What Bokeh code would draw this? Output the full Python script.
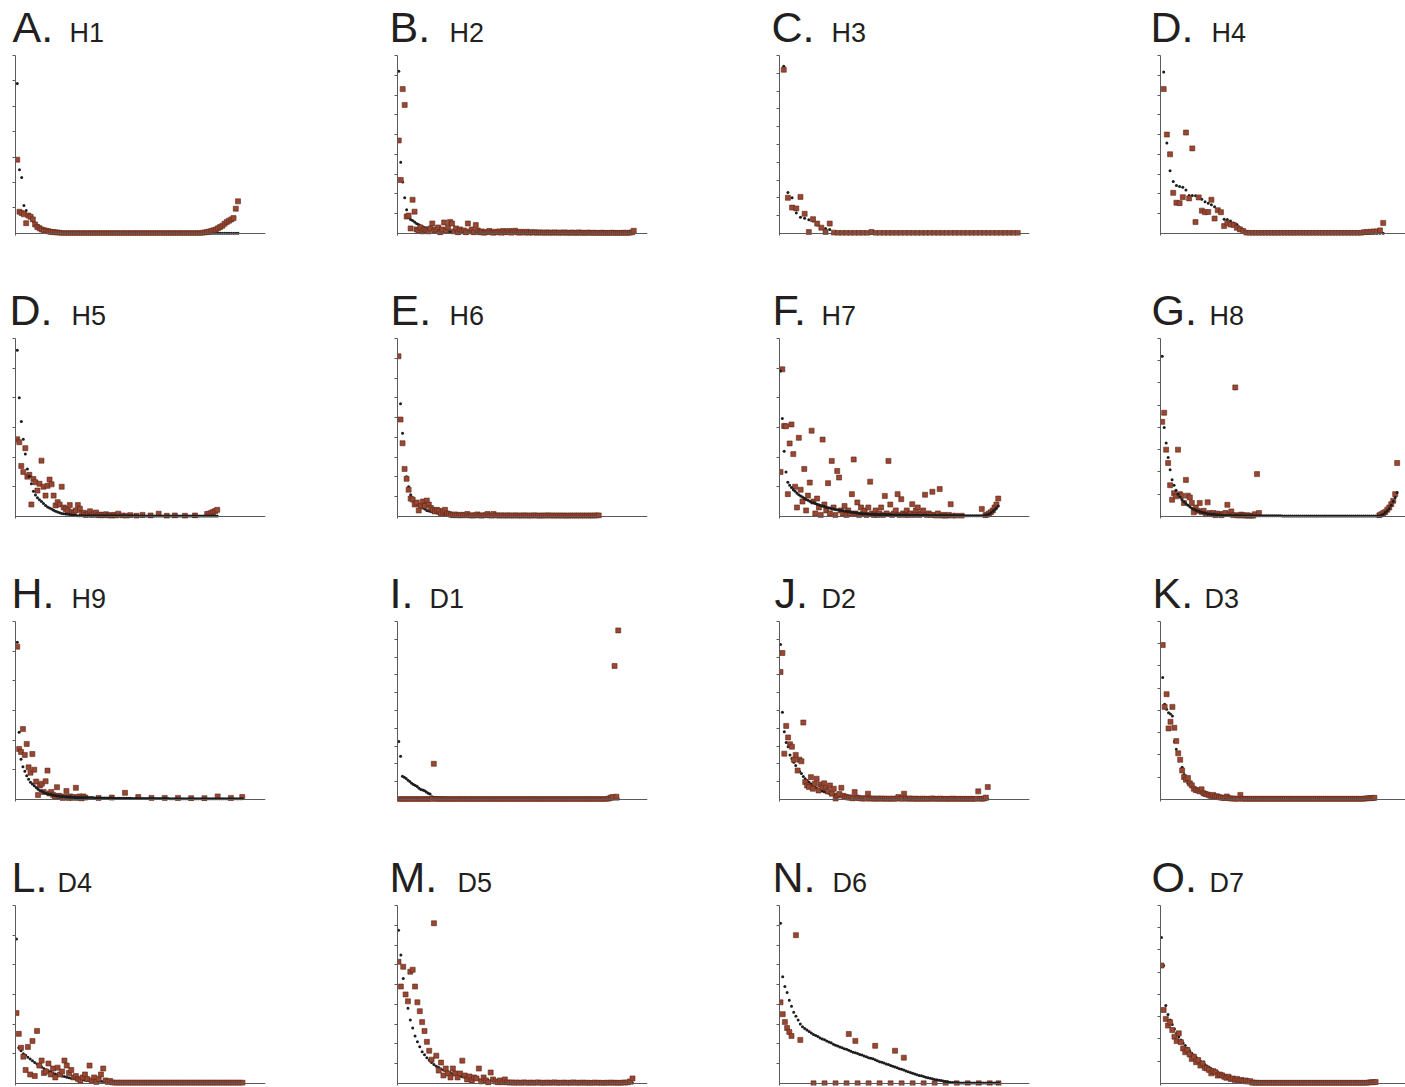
from bokeh.plotting import figure
from bokeh.layouts import column, row
from bokeh.models import Range1d, FixedTicker
from bokeh.core.properties import value
from bokeh.embed import file_html
from bokeh.resources import INLINE

N = float("nan")

# ---------------- data (black = smooth series, red = observed series) ----------------
H1_black = [5.9, 2.5, 2.2, 1.1, 0.9, 0.75, 0.6, 0.5, 0.4, 0.32, 0.25, 0.2, 0.16, 0.12, 0.1, 0.08, 0.06, 0.05, 0.04, 0.03] + [0.02] * 10 + [0.0] * 70
H1_red = [2.9, 0.85, 0.8, 0.75, 0.4, 0.7, 0.65, 0.55, 0.35, 0.25, 0.2, 0.15, 0.12, 0.1, 0.08, 0.06, 0.05, 0.04, 0.03, 0.02] + [0.0] * 63 + \
    [0.02, 0.03, 0.05, 0.07, 0.09, 0.12, 0.15, 0.2, 0.25, 0.3, 0.38, 0.45, 0.5, 0.55, 0.6, 0.97, 1.26]

H2_black = [8.2, 3.6, 2.6, 1.8, 1.2, 0.8, 0.7, 0.65, 0.58, 0.5, 0.45, 0.38, 0.34, 0.3, 0.27, 0.25, 0.22, 0.2, 0.18, 0.16,
            0.15, 0.14, 0.13, 0.12, 0.11, 0.1, 0.09, 0.08, 0.08, 0.07] + [0.06] * 10 + [0.04] * 20 + [0.02] * 30 + [0.01] * 30
H2_red = [4.7, 2.7, 7.3, 6.5, 0.85, 0.9, 0.25, 1.7, 1.1, 0.2, 0.15, 0.3, 0.1, 0.2, 0.15, 0.1, 0.25, 0.5, 0.15, 0.2,
          0.3, 0.05, 0.2, 0.55, 0.15, 0.3, 0.58, 0.5, 0.1, 0.25, 0.05, 0.2, 0.1, 0.15, 0.05, 0.5, 0.1, 0.2, 0.05, 0.42,
          0.15, 0.05, 0.1, 0.02, 0.05, 0.08, 0.12, 0.05, 0.02, 0.08, 0.05, 0.1, 0.02, 0.12, 0.05, 0.08, 0.12, 0.02, 0.1, 0.13,
          0.05, 0.02, 0.08, 0.05, 0.03, 0.08, 0.02, 0.06, 0.03, 0.06,
          0.02, 0.04, 0.05, 0.02, 0.03, 0.05, 0.02, 0.04, 0.02, 0.05, 0.03, 0.02, 0.04, 0.02, 0.05, 0.02, 0.03, 0.02, 0.04, 0.02,
          0.02, 0.05, 0.02, 0.03, 0.02, 0.02, 0.04, 0.02, 0.02, 0.03, 0.02, 0.02, 0.02, 0.03, 0.02, 0.02, 0.02, 0.02, 0.03, 0.02,
          0.02, 0.02, 0.02, 0.02, 0.03, 0.02, 0.02, 0.03, 0.05, 0.13]

H3_black = [9.4, 2.3, 2.0, 1.15, 0.9, 0.85, 0.76, 0.7, 0.47, 0.35, 0.28, 0.22, 0.02] + [0.0] * 44
H3_red = [9.2, 2.0, 1.45, 1.4, 2.05, 1.1, 0.07, 0.8, 0.55, 0.32, 0.08, 0.55, 0.04] + [0.02] * 8 + [0.08] + [0.02] * 35

H4_black = [8.17, 4.57, 3.17, 2.62, 2.42, 2.37, 2.33, 2.2, 1.92, 1.92, 1.9, 1.85, 1.72, 1.6, 1.52, 1.45, 1.35, 1.17, 1.12, 0.72,
            0.7, 0.62, 0.53, 0.45, 0.28, 0.17, 0.07] + [0.02] * 10 + [0.0] * 33
H4_red = [7.3, 5.0, 4.0, 2.05, 1.55, 1.53, 1.83, 5.1, 1.77, 4.3, 0.57, 1.82, 1.15, 1.07, 1.08, 1.7, 0.75, 1.17, 1.07, 0.37,
          0.53, 0.45, 0.42, 0.28, 0.2, 0.12, 0.03] + [0.02] * 36 + [0.06, 0.07, 0.08, 0.09, 0.1, 0.15, 0.53]

H5_black = [5.6, 4.0, 3.2, 2.6, 2.1, 1.6, 1.35, 1.1, 0.85, 0.72, 0.63, 0.56, 0.5, 0.43, 0.37, 0.32, 0.28, 0.25, 0.21, 0.17,
            0.15, 0.12, 0.1, 0.09, 0.08, 0.07, 0.06, 0.05, 0.04, 0.03] + [0.02] * 30 + [0.01] * 40
H5_red = [2.6, 2.5, 1.7, 1.5, 2.3, 1.34, 1.4, 0.4, 1.26, 1.15, 0.87, 1.1, 1.88, 1.0, 0.7, 1.03, 1.24, 1.08, 0.7, 0.37,
          0.48, 0.4, 1.0, 0.3, 0.25, 0.2, 0.38, 0.15, 0.11, 0.2, 0.38, 0.26, 0.1, 0.12, 0.05, 0.08, 0.17, 0.05, 0.08, 0.13,
          0.04, 0.06, 0.03, 0.05, 0.07, 0.03,
          0.04, 0.02, 0.05, 0.03, 0.09, N, 0.03, N, 0.02, N, 0.04, N, N, 0.02, N, N, 0.05, N, N, N,
          0.03, N, N, N, 0.09, N, N, N, 0.02, N, N, N, 0.03, N, N, N, N, 0.02, N, N, N, N, 0.03, N, N, N, N, N,
          0.08, 0.09, 0.12, 0.15, 0.18, 0.22]

H6_black = [8.1, 5.7, 4.2, 2.4, 2.0, 1.5, 1.1, 0.9, 0.75, 0.62, 0.55, 0.48, 0.42, 0.37, 0.3, 0.27, 0.24, 0.21, 0.19, 0.17,
            0.15, 0.13, 0.12, 0.11, 0.1, 0.09, 0.08, 0.07, 0.06, 0.05] + [0.04] * 10 + [0.03] * 10 + [0.02] * 50
H6_red = [8.1, 4.9, 3.7, 2.4, 1.9, 1.35, 0.9, 0.85, 0.6, 0.7, 0.3, 0.55, 0.75, 0.53, 0.8, 0.6, 0.42, 0.33, 0.25, 0.33,
          0.28, 0.15, 0.25, 0.33, 0.15, 0.12, 0.08, 0.05, 0.1, 0.06, 0.04, 0.08, 0.05, 0.06, 0.12, 0.04, 0.05, 0.03, 0.06, 0.1,
          0.04, 0.03, 0.05, 0.06, 0.12, 0.04, 0.03, 0.12, 0.04, 0.05,
          0.03, 0.05, 0.04, 0.03, 0.05, 0.04, 0.03, 0.04, 0.05, 0.03, 0.04, 0.03, 0.05, 0.04, 0.03, 0.04, 0.03, 0.05, 0.04, 0.03,
          0.03, 0.04, 0.03, 0.04, 0.05, 0.03, 0.04, 0.03, 0.04, 0.03, 0.04, 0.03, 0.04, 0.03, 0.03, 0.04, 0.03, 0.04, 0.03, 0.04,
          0.03, 0.04, 0.03, 0.04, 0.03, 0.04, 0.03, 0.04, 0.04, 0.05]

H7_black = [4.9, 3.3, 2.2, 1.5, 1.15, 1.05, 0.97, 0.9, 0.85, 0.78, 0.73, 0.69, 0.65, 0.61, 0.57, 0.54, 0.51, 0.48, 0.46, 0.43,
            0.41, 0.39, 0.37, 0.35, 0.33, 0.31, 0.29, 0.28, 0.26, 0.25, 0.23, 0.22, 0.21, 0.2, 0.19, 0.18, 0.17, 0.16, 0.15, 0.14,
            0.13, 0.12, 0.11, 0.1, 0.1, 0.09, 0.09, 0.08, 0.08, 0.07, 0.07] + [0.06] * 10 + [0.05] * 10 + [0.04] * 10 + \
    [0.03] * 20 + [0.02] * 11 + [0.04, 0.06, 0.08, 0.12, 0.17, 0.22, 0.28, 0.35]
H7_red = [1.5, 4.96, 3.05, 3.04, 0.75, 2.46, 3.1, 2.1, 1.0, 0.3, 2.65, 0.9, 0.5, 1.6, 0.2, 0.7, 1.14, 2.89, 0.5, 0.1,
          0.6, 0.3, 0.05, 2.59, 0.4, 0.2, 1.12, 0.1, 1.87, 0.3, 0.05, 1.53, 1.31, 0.2, 0.1, 0.35, 0.05, 0.2, 0.1, 0.75,
          1.92, 0.1, 0.47, 0.05, 0.3, 0.1, 0.2, 0.05, 0.3, 1.17, 0.1, 0.05, 0.2, 0.05, 0.1, 0.3, 0.05, 0.69, 0.1, 1.87,
          0.4, 0.05, 0.1, 0.2, 0.75, 0.05, 0.58, 0.1, 0.05, 0.2, 0.05, 0.1, 0.41, 0.05, 0.2, 0.3, 0.05, 0.1, 0.2, 0.73,
          0.05, 0.1, 0.05, 0.83, 0.05, 0.02, 0.1, 0.92, 0.02, 0.05, 0.02, 0.02, 0.05, 0.41, 0.02, N, 0.02, N, N, 0.02,
          N, N, N, N, N, N, N, N, N, N, 0.25, N, 0.04, 0.06, 0.1, 0.14, 0.2, 0.3, 0.4, 0.6]

H8_black = [7.2, 4.0, 3.3, 2.65, 2.1, 1.65, 1.4, 1.18, 1.0, 0.87, 0.76, 0.66, 0.58, 0.5, 0.43, 0.37, 0.32, 0.28, 0.24, 0.21,
            0.18, 0.16, 0.14, 0.12, 0.11, 0.1, 0.09, 0.08, 0.07, 0.06, 0.05] + [0.04] * 10 + [0.03] * 20 + [0.02] * 50 + \
    [0.05, 0.1, 0.17, 0.25, 0.35, 0.5, 0.68, 0.85, 1.07]
H8_red = [4.25, 4.66, 3.0, 2.4, 1.4, 0.75, 1.04, 0.9, 3.0, 1.0, 0.93, 0.6, 1.64, 0.93, 0.85, 0.6, 0.18, 0.4, 0.25, 0.6,
          0.2, 0.25, 0.1, 0.63, 0.15, 0.1, 0.15, 0.05, 0.12, 0.1, 0.05, 0.1, 0.15, 0.52, 0.1, 0.22, 0.05, 5.8, 0.05, 0.03,
          0.08, 0.05, 0.02, 0.05, 0.02, 0.03, 0.02, 0.1, 1.9, 0.15] + [N] * 60 + \
    [0.05, 0.1, 0.15, 0.2, 0.3, 0.4, 0.55, 0.7, 1.0, 2.4]

H9_black = [5.3, 2.26, 1.35, 1.1, 0.95, 0.8, 0.68, 0.58, 0.52, 0.46, 0.4, 0.34, 0.3, 0.27, 0.24, 0.21, 0.19, 0.17, 0.16, 0.14,
            0.13, 0.12, 0.11, 0.1, 0.1, 0.09, 0.09, 0.08, 0.08, 0.07, 0.07] + [0.06] * 10 + [0.05] * 10 + [0.04] * 10 + \
    [0.03] * 20 + [0.02] * 39
H9_red = [5.15, 1.7, 1.6, 2.37, 1.5, 1.87, 1.08, 0.9, 1.53, 1.0, 0.6, 0.15, 0.47, 0.53, 0.25, 0.61, 0.97, 0.2, 0.25, 0.15,
          0.1, 0.41, 0.12, 0.1, 0.05, 0.08, 0.28, 0.05, 0.1, 0.05, 0.08, 0.39, 0.05, 0.1, 0.03, 0.1,
          0.06, N, N, N, N, N, N, 0.05, N, N, N, N, N, N, 0.06, N, N, N, N, N, N, 0.22, N, N, N, N, N, N,
          0.08, N, N, N, N, N, N, 0.05, N, N, N, N, N, N, 0.05, N, N, N, N, N, N, 0.05, N, N, N, N, N, N,
          0.04, N, N, N, N, N, N, 0.04, N, N, N, N, N, N, 0.1, N, N, N, N, N, N, 0.05, N, N, N, N, N, 0.08]

D1_black = [3.26, 2.42, 1.3, 1.25, 1.18, 1.08, 1.0, 0.9, 0.84, 0.78, 0.73, 0.62, 0.56, 0.52, 0.48, 0.42, 0.35, 0.3, 0.15, 0.12,
            0.1, 0.1, 0.09, 0.09, 0.08, 0.08] + [0.02] * 94
D1_red = [0.0] * 19 + [2.0] + [0.0] * 94 + [0.05, 0.1, 0.13, 7.5, 0.15, 9.5]

D2_black = [8.7, 4.9, 3.8, 3.2, 2.96, 2.5, 2.3, 2.09, 1.9, 1.7, 1.58, 1.45, 1.28, 1.16, 1.06, 0.96, 0.87, 0.78, 0.7, 0.62,
            0.56, 0.5, 0.47, 0.43, 0.39, 0.36, 0.33, 0.31, 0.28, 0.26, 0.23, 0.21, 0.2, 0.18, 0.16, 0.15, 0.14, 0.13, 0.12, 0.11,
            0.1, 0.09, 0.08, 0.08, 0.07, 0.07, 0.06, 0.06, 0.05, 0.05, 0.05, 0.04, 0.04, 0.04, 0.04, 0.03] + [0.03] * 10 + [0.02] * 44
D2_red = [7.16, 8.23, 2.57, 4.13, 3.48, 3.1, 2.96, 2.23, 2.5, 1.62, 2.23, 2.14, 4.32, 0.97, 0.78, 0.69, 1.25, 0.6, 0.88, 1.16,
          0.5, 0.84, 0.69, 0.9, 0.65, 0.45, 0.78, 0.32, 0.6, 0.04, 0.22, 0.3, 0.65, 0.2, 0.15, 0.12, 0.1, 0.1, 0.05, 0.41,
          0.1, 0.08, 0.05, 0.04, 0.06, 0.03, 0.32, 0.04,
          0.03, 0.05, 0.02, 0.04, 0.03, 0.05, 0.02, 0.04, 0.03, 0.02, 0.04, 0.03, 0.02, 0.05, 0.13, 0.03, 0.02, 0.32, 0.04, 0.02,
          0.05, 0.03, 0.02, 0.04, 0.02, 0.03, 0.02, 0.04, 0.02, 0.03, 0.02, 0.03, 0.05, 0.02, 0.03, 0.02, 0.04, 0.02, 0.03, 0.02,
          0.02, 0.03, 0.02, 0.04, 0.02, 0.02, 0.03, 0.02, 0.02, 0.03, 0.02, 0.02, 0.03, 0.02, 0.02, 0.03, 0.45, 0.03, 0.02, 0.04,
          0.1, 0.69]

D3_black = [5.48, 4.28, 4.05, 3.9, 3.84, 3.75, 2.6, 2.25, 2.08, 1.78, 1.45, 1.12, 0.88, 0.73, 0.65, 0.56, 0.48, 0.43, 0.38, 0.32,
            0.27, 0.23, 0.2, 0.17, 0.14, 0.12, 0.1, 0.09, 0.08, 0.07, 0.07, 0.06, 0.05, 0.05] + [0.04] * 10 + [0.03] * 20 + [0.02] * 46
D3_red = [6.94, 4.16, 4.73, 3.19, 3.49, 4.16, 3.22, 2.62, 2.07, 1.78, 1.3, 1.0, 0.88, 0.96, 0.72, 0.63, 0.48, 0.42, 0.4, 0.36,
          0.45, 0.28, 0.24, 0.22, 0.18, 0.15, 0.2, 0.12, 0.14, 0.1, 0.08, 0.07, 0.06, 0.13, 0.05, 0.04, 0.03, 0.03, 0.02, 0.02,
          0.2] + [0.02] * 63 + [0.03, 0.04, 0.05, 0.05, 0.06, 0.07]

D4_black = [4.87, 1.2, 1.1, 1.0, 0.95, 0.88, 0.82, 0.76, 0.7, 0.65, 0.6, 0.55, 0.5, 0.46, 0.42, 0.38, 0.35, 0.32, 0.29, 0.27,
            0.25, 0.23, 0.21, 0.19, 0.17, 0.16, 0.15, 0.14, 0.13, 0.12, 0.11, 0.1, 0.09, 0.09, 0.08, 0.08, 0.07, 0.07, 0.06, 0.06,
            0.05] + [0.04] * 10 + [0.03] * 10 + [0.02] * 39
D4_red = [2.37, 1.67, 1.2, 0.9, 0.45, 1.23, 0.3, 1.43, 0.25, 1.77, 0.6, 0.77, 0.35, 0.4, 0.67, 0.3, 0.5, 0.2, 0.53, 0.3,
          0.4, 0.77, 0.6, 0.35, 0.45, 0.2, 0.25, 0.15, 0.1, 0.2, 0.3, 0.15, 0.6, 0.1, 0.2, 0.05, 0.15, 0.3, 0.5, 0.1,
          0.05, 0.08, 0.03, 0.02] + [0.02] * 56

D5_black = [7.75, 6.5, 5.3, 4.5, 3.8, 3.2, 2.8, 2.4, 2.1, 1.85, 1.6, 1.45, 1.3, 1.18, 1.05, 0.95, 0.87, 0.8, 0.73, 0.67,
            0.62, 0.57, 0.52, 0.48, 0.44, 0.4, 0.37, 0.34, 0.31, 0.28, 0.26, 0.24, 0.22, 0.2, 0.18, 0.17, 0.16, 0.15, 0.14, 0.13,
            0.12, 0.11, 0.1, 0.1, 0.09, 0.09, 0.08, 0.08, 0.07, 0.07, 0.06] + [0.05] * 10 + [0.04] * 10 + [0.03] * 10 + [0.02] * 19
D5_red = [6.15, 4.9, 5.9, 4.5, 4.15, 5.65, 5.75, 4.9, 4.1, 3.65, 3.1, 2.65, 2.1, 1.65, 1.2, 8.1, 1.4, 0.65, 1.05, 0.4,
          0.75, 0.5, 0.3, 0.75, 0.5, 0.3, 0.5, 1.15, 0.4, 0.2, 0.35, 0.15, 0.3, 0.25, 0.75, 0.1, 0.3, 0.15, 0.05, 0.55,
          0.2, 0.1, 0.05, 0.15, 0.05, 0.2, 0.05,
          0.03, 0.05, 0.02, 0.04, 0.03, 0.02, 0.05, 0.03, 0.02, 0.04, 0.02, 0.03, 0.05, 0.02, 0.03, 0.02, 0.04, 0.02, 0.03, 0.05,
          0.02, 0.03, 0.02, 0.04, 0.02, 0.03, 0.02, 0.05, 0.02, 0.03, 0.02, 0.04, 0.02, 0.03, 0.02, 0.02, 0.04, 0.02, 0.03, 0.02,
          0.02, 0.03, 0.02, 0.04, 0.02, 0.03, 0.02, 0.02, 0.04, 0.03, 0.05, 0.1, 0.25]

D6_black = [8.1, 5.4, 4.9, 4.6, 4.2, 3.9, 3.6, 3.4, 3.2, 3.0, 2.86, 2.77, 2.7, 2.63, 2.55, 2.47, 2.42, 2.37, 2.3, 2.25,
            2.21, 2.15, 2.09, 2.05, 1.98, 1.93, 1.89, 1.84, 1.8, 1.75, 1.72, 1.68, 1.63, 1.58, 1.55, 1.51, 1.46, 1.43, 1.39, 1.35,
            1.3, 1.27, 1.24, 1.19, 1.15, 1.1, 1.07, 1.03, 0.98, 0.95, 0.91, 0.86, 0.83, 0.79, 0.74, 0.71, 0.67, 0.62, 0.59, 0.55,
            0.51, 0.47, 0.44, 0.4, 0.38, 0.35, 0.31, 0.29, 0.26, 0.23, 0.2, 0.18, 0.16, 0.14, 0.12, 0.1, 0.08, 0.06, 0.05, 0.04,
            0.03] + [0.02] * 19
D6_red = [4.1, 3.5, 3.1, 2.8, 2.6, 2.4, N, 7.5, N, 2.2,
          N, N, N, N, N, 0.0, N, N, N, N,
          0.0, N, N, N, N, 0.0, N, N, N, N,
          0.0, 2.5, N, N, 2.15, 0.0, N, N, N, N,
          0.0, N, N, 1.9, N, 0.0, N, N, N, N,
          0.0, N, 1.65, N, N, 0.0, 1.3, N, N, N,
          0.0, N, N, N, N, 0.0, N, N, N, N,
          0.0, N, N, N, N, 0.0, N, N, N, N,
          0.0, N, N, N, N, 0.0, N, N, N, N,
          0.0, N, N, N, N, 0.0, N, N, N, 0.0]

D7_black = [6.56, 5.3, 3.5, 3.1, 2.85, 2.65, 2.45, 2.25, 2.1, 1.95, 1.82, 1.7, 1.58, 1.47, 1.36, 1.26, 1.17, 1.08, 1.0, 0.92,
            0.85, 0.78, 0.72, 0.66, 0.6, 0.55, 0.5, 0.46, 0.42, 0.38, 0.35, 0.32, 0.29, 0.26, 0.24, 0.22, 0.2, 0.18, 0.16, 0.15,
            0.14, 0.13, 0.12, 0.11, 0.1, 0.09, 0.08, 0.07, 0.07, 0.06, 0.06] + [0.05] * 5 + [0.04] * 10 + [0.03] * 10 + [0.02] * 24
D7_red = [5.3, 3.3, 2.9, 2.6, 2.75, 2.4, 2.1, 1.9, 2.25, 1.85, 1.57, 1.4, 1.5, 1.3, 1.1, 1.2, 0.95, 1.05, 0.8, 0.9,
          0.7, 0.67, 0.6, 0.45, 0.55, 0.5, 0.35, 0.4, 0.36, 0.3, 0.25, 0.3, 0.2, 0.22, 0.15, 0.2, 0.12, 0.15, 0.1, 0.13,
          0.08, 0.1] + [0.02] * 54 + [0.04, 0.05, 0.05, 0.06]

LETTERS = ["A.", "B.", "C.", "D.", "D.", "E.", "F.", "G.", "H.", "I.", "J.", "K.", "L.", "M.", "N.", "O."]
NAMES = ["H1", "H2", "H3", "H4", "H5", "H6", "H7", "H8", "H9", "D1", "D2", "D3", "D4", "D5", "D6", "D7"]
TICK_COUNT = [7, 9, 10, 9, 6, 9, 6, 8, 6, 10, 10, 8, 6, 9, 9, 8]
SERIES = [(H1_black, H1_red), (H2_black, H2_red), (H3_black, H3_red), (H4_black, H4_red),
          (H5_black, H5_red), (H6_black, H6_red), (H7_black, H7_red), (H8_black, H8_red),
          (H9_black, H9_red), (D1_black, D1_red), (D2_black, D2_red), (D3_black, D3_red),
          (D4_black, D4_red), (D5_black, D5_red), (D6_black, D6_red), (D7_black, D7_red)]

# ---------------- layout / style ----------------
XFRAC = [(0.007, 0.89), (0.005, 0.945), (0.017, 0.953), (0.013, 0.909),
         (0.007, 0.807), (0.004, 0.805), (0.004, 0.875), (0.007, 0.966),
         (0.007, 0.907), (0.005, 0.883), (0.004, 0.833), (0.009, 0.873),
         (0.004, 0.908), (0.004, 0.94), (0.004, 0.876), (0.004, 0.878)]
RED_ON_TOP = [True, True, True, True, False, True, False, False,
              False, True, True, True, True, True, False, True]
LBL1_X = [-3, -8, -8, -10, -6, -7, -7, -9, -4, -8, -5, -8, -4, -8, -7, -9]
LBL2_X = [54, 52, 52, 51, 56, 52, 42, 49, 56, 32, 42, 44, 42, 60, 53, 49]

PAGE_W = 1405
COL_X = [0, 382, 764, 1146]
COL_W = [382, 382, 382, 259]
COL_LEFT = [15, 15, 15, 14]
COL_RIGHT = [117, 117, 117, 0]
TITLE_H = [55, 55, 55, 56]
PLOT_H = [228, 228, 228, 182]
PLOT_BOTTOM = [48, 48, 48, 2]
BIG_SIZE, SMALL_SIZE = 43, 27
BIG_BASE, SMALL_BASE = 29, 23

AXIS_COLOR = "#5a5a5a"
TEXT_COLOR = "#231f20"
RED_FILL = "#9a4630"
RED_LINE = "#5b2a1d"
BLACK = "#1c1c1c"


def title_strip(r):
    h = TITLE_H[r]
    t = figure(width=PAGE_W, height=h, output_backend="svg", toolbar_location=None,
               x_axis_type=None, y_axis_type=None,
               x_range=Range1d(0, PAGE_W), y_range=Range1d(0, h),
               min_border=0, min_border_left=0, min_border_right=0, min_border_top=0, min_border_bottom=0)
    t.grid.visible = False
    t.outline_line_color = None
    ks = [r * 4 + c for c in range(4)]
    t.text(x=[COL_X[c] + COL_LEFT[c] + LBL1_X[k] for c, k in enumerate(ks)], y=[BIG_BASE] * 4,
           text=[LETTERS[k] for k in ks],
           text_font=value("Liberation Sans"), text_font_size=value(f"{BIG_SIZE}px"),
           text_color=TEXT_COLOR, text_baseline="alphabetic", text_align="left")
    t.text(x=[COL_X[c] + COL_LEFT[c] + LBL2_X[k] for c, k in enumerate(ks)], y=[SMALL_BASE] * 4,
           text=[NAMES[k] for k in ks],
           text_font=value("Liberation Sans"), text_font_size=value(f"{SMALL_SIZE}px"),
           text_color=TEXT_COLOR, text_baseline="alphabetic", text_align="left")
    return t


def plot_fig(k, r, c):
    black, red = SERIES[k]
    n = max(len(black), len(red))
    f0, f1 = XFRAC[k]
    span = (n - 1) / (f1 - f0)
    x0 = -f0 * span
    T = TICK_COUNT[k]
    p = figure(width=COL_W[c], height=PLOT_H[r], output_backend="svg", toolbar_location=None,
               x_range=Range1d(x0, x0 + span), y_range=Range1d(-0.012 * T, T),
               min_border_left=COL_LEFT[c], min_border_right=COL_RIGHT[c],
               min_border_top=0, min_border_bottom=PLOT_BOTTOM[r])
    p.outline_line_color = None
    p.xgrid.visible = False
    p.ygrid.visible = False

    xa = p.xaxis[0]
    xa.fixed_location = 0
    xa.axis_line_color = AXIS_COLOR
    xa.major_tick_line_color = None
    xa.minor_tick_line_color = None
    xa.major_tick_out = 0
    xa.major_tick_in = 0
    xa.minor_tick_out = 0
    xa.minor_tick_in = 0
    xa.major_label_text_color = None
    xa.major_label_text_font_size = "0px"
    xa.major_label_standoff = 0

    ya = p.yaxis[0]
    ya.ticker = FixedTicker(ticks=list(range(1, T + 1)))
    ya.axis_line_color = AXIS_COLOR
    ya.major_tick_line_color = AXIS_COLOR
    ya.major_tick_out = 3
    ya.major_tick_in = 0
    ya.minor_tick_line_color = None
    ya.minor_tick_out = 0
    ya.minor_tick_in = 0
    ya.major_label_text_color = None
    ya.major_label_text_font_size = "0px"
    ya.major_label_standoff = 0

    def draw_black():
        p.scatter(list(range(len(black))), black, marker="circle", size=3,
                  fill_color=BLACK, line_color=None)

    def draw_red():
        p.scatter(list(range(len(red))), red, marker="square", size=5,
                  fill_color=RED_FILL, line_color=RED_LINE, line_width=0.6)

    if RED_ON_TOP[k]:
        draw_black()
        draw_red()
    else:
        draw_red()
        draw_black()
    return p


parts = []
for r in range(4):
    parts.append(title_strip(r))
    parts.append(row(*[plot_fig(r * 4 + c, r, c) for c in range(4)], spacing=0))
layout = column(*parts, spacing=0)

open("out.html", "w").write(file_html(layout, INLINE))
